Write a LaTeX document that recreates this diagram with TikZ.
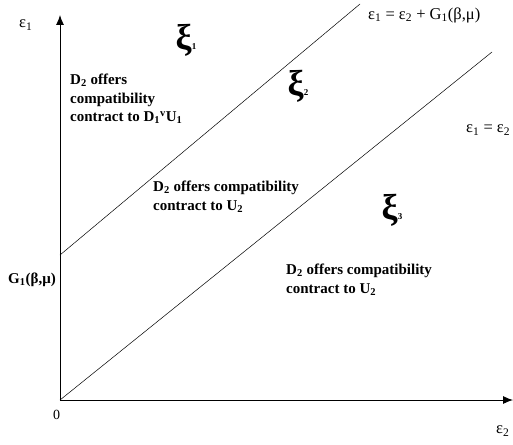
\documentclass[tikz,border=0pt]{standalone}
\usepackage{fontspec}
\setmainfont{Liberation Serif}
\usetikzlibrary{arrows.meta,positioning}

\begin{document}
\begin{tikzpicture}[
      x=1pt, y=-1pt,
      region/.style={align=left, anchor=north west, inner sep=0pt,
                     font=\bfseries\fontsize{15}{18.5}\selectfont},
      eqn/.style={anchor=west, inner sep=0pt, font=\fontsize{16.5}{19}\selectfont},
      xi/.style={inner sep=0pt, font=\bfseries\fontsize{36}{36}\selectfont},
      axis/.style={-{Latex[length=10pt,width=8pt]}, line width=0.9pt},
      bound/.style={line width=0.5pt},
    ]
    \useasboundingbox (0,0) rectangle (513,444);

    \coordinate (O)     at (60,400);
    \coordinate (ytop)  at (60,15);
    \coordinate (xend)  at (513,400);
    \coordinate (G)     at (60,255);
    \coordinate (upend) at (360,4);
    \coordinate (loend) at (492,52);

    \draw[axis]  (O) -- (ytop);
    \draw[axis]  (O) -- (xend);
    \draw[bound] (G) -- (upend);
    \draw[bound] (O) -- (loend);

    \node[eqn] (ylabel)  at (19,25)  {ε\textsubscript{1}};
    \node[eqn] (xlabel)  at (496,431) {ε\textsubscript{2}};
    \node[eqn, font=\fontsize{14}{16}\selectfont] (origin) at (53,415) {0};
    \node[eqn, font=\bfseries\fontsize{15}{17}\selectfont] (glabel) at (8,280) {G\textsubscript{1}(β,μ)};
    \node[eqn] (equpper) at (368,15)  {ε\textsubscript{1} = ε\textsubscript{2} + G\textsubscript{1}(β,μ)};
    \node[eqn] (eqdiag)  at (466,130) {ε\textsubscript{1} = ε\textsubscript{2}};

    \node[xi] (xiA) at (186,40)  {ξ{\fontsize{9}{9}\selectfont 1}};
    \node[xi] (xiB) at (298,86)  {ξ{\fontsize{9}{9}\selectfont 2}};
    \node[xi] (xiC) at (392,210) {ξ{\fontsize{9}{9}\selectfont 3}};

    \node[region] (regA) at (70,74)   {D\textsubscript{2} offers\\compatibility\\contract to D\textsubscript{1}\textsuperscript{v}U\textsubscript{1}};
    \node[region] (regB) at (153,181) {D\textsubscript{2} offers compatibility\\contract to U\textsubscript{2}};
    \node[region] (regC) at (286,264) {D\textsubscript{2} offers compatibility\\contract to U\textsubscript{2}};
  \end{tikzpicture}
\end{document}
